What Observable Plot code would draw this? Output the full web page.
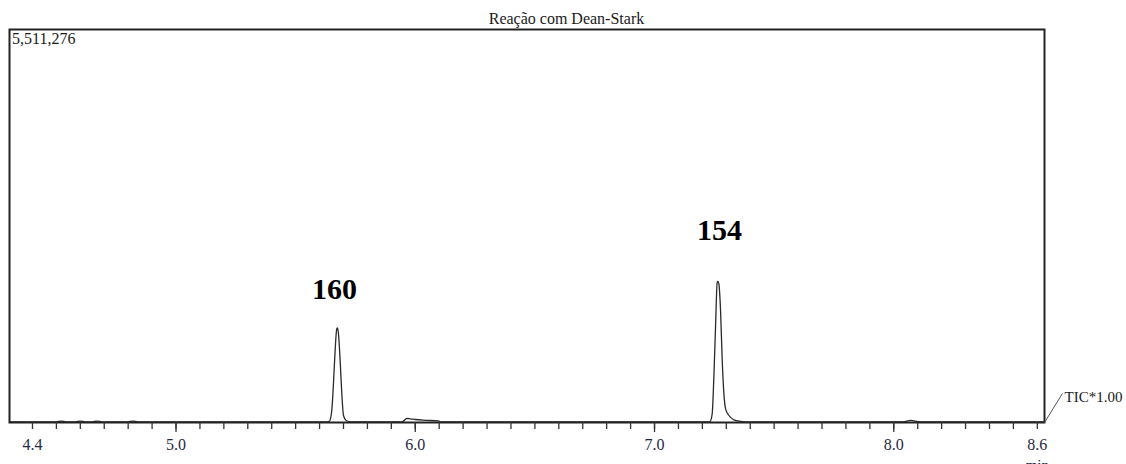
<!DOCTYPE html>
<html>
<head>
<meta charset="utf-8">
<script src="https://cdn.jsdelivr.net/npm/d3@7"></script>
<script src="https://cdn.jsdelivr.net/npm/@observablehq/plot@0.6"></script>
<style>
  html, body { margin: 0; padding: 0; background: #fff; }
</style>
</head>
<body>
<div id="chart"></div>
<script>
// ---- Data ----
const chartTitle = "Reação com Dean-Stark";
const maxIntensityLabel = "5,511,276";
const maxIntensity = 5511276;
const traceLabel = "TIC*1.00";
const unitLabel = "min";

// retention time (min)
const times = [
  4.304, 4.40, 4.50, 4.52, 4.54, 4.58, 4.60, 4.62, 4.65, 4.67, 4.69, 4.80, 4.82, 4.84,
  5.00, 5.20, 5.40, 5.60, 5.630, 5.641, 5.651, 5.658, 5.665, 5.672, 5.675, 5.679, 5.686,
  5.693, 5.700, 5.711, 5.730, 5.80, 5.90, 5.944, 5.965, 5.979, 6.000, 6.033, 6.096, 6.105,
  6.20, 6.50, 6.80, 7.00, 7.20, 7.231, 7.241, 7.248, 7.255, 7.262, 7.265, 7.269, 7.276,
  7.283, 7.290, 7.297, 7.311, 7.332, 7.360, 7.388, 7.45, 7.70, 7.90, 8.04, 8.07, 8.11,
  8.30, 8.50, 8.63
];
// total ion current (counts)
const intensities = [
  8000, 8000, 8000, 20000, 8000, 8000, 20000, 8000, 8000, 20000, 8000, 8000, 20000, 8000,
  8000, 8000, 8000, 8000, 9000, 18000, 168000, 543000, 1010000, 1314000, 1325000, 1244000, 869000,
  402000, 98000, 28000, 10000, 8000, 8000, 9000, 56000, 52000, 42000, 32000, 24000, 9000,
  8000, 8000, 8000, 8000, 8000, 9000, 122000, 635000, 1336000, 1967000, 1977000, 1945000, 1571000,
  869000, 402000, 192000, 98000, 38000, 17000, 9000, 8000, 8000, 8000, 9000, 30000, 9000,
  8000, 8000, 8000
];

// peak annotations
const peakNames = ["160", "154"];
const peakLabelTimes = [5.662, 7.272];
const peakLabelLevels = [1869000, 2695000];

// axis ticks
const minorTicks = d3.range(44, 87).map(d => d / 10);
const majorTicks = [5.0, 6.0, 7.0, 8.0];
const tickLabels = [4.4, 5.0, 6.0, 7.0, 8.0, 8.6];

// ---- build ----
const trace = times.map((t, i) => ({t, v: intensities[i]}));
const peaks = peakNames.map((name, i) => ({name, t: peakLabelTimes[i], v: peakLabelLevels[i]}));

const xMin = 4.304, xMax = 8.63;
const serif = "Liberation Serif, Times New Roman, serif";

const chart = Plot.plot({
  width: 1126,
  height: 464,
  marginLeft: 9,
  marginRight: 82,
  marginTop: 29,
  marginBottom: 42,
  x: {domain: [xMin, xMax]},
  y: {domain: [0, maxIntensity], axis: null},
  style: {fontFamily: serif, fontSize: "16px", background: "#fff", color: "#222"},
  marks: [
    Plot.line(trace, {x: "t", y: "v", stroke: "#2a2a2a", strokeWidth: 1.3, curve: "monotone-x"}),
    Plot.frame({stroke: "#222", strokeWidth: 2}),
    Plot.axisX(minorTicks, {tickSize: 7, tickFormat: () => "", label: null, stroke: "#333", strokeWidth: 1.3}),
    Plot.axisX(majorTicks, {tickSize: 10, tickFormat: () => "", label: null, stroke: "#333", strokeWidth: 1.3}),
    Plot.axisX(tickLabels, {tickSize: 0, tickPadding: 16, tickFormat: d => d.toFixed(1), label: null,
      fill: "#1f2a44", fontSize: 16, fontFamily: serif}),
    Plot.text([unitLabel], {x: 8.6, frameAnchor: "bottom", dy: 47, lineAnchor: "bottom",
      fill: "#1f2a44", fontSize: 15, fontFamily: serif}),
    Plot.text([chartTitle], {x: 6.632, frameAnchor: "top", dy: -6, lineAnchor: "bottom",
      fill: "#1a1a1a", fontSize: 16, fontFamily: serif}),
    Plot.text([maxIntensityLabel], {frameAnchor: "top-left", dx: 2.5, dy: 3.5, lineAnchor: "top",
      textAnchor: "start", fill: "#1a1a1a", fontSize: 16, fontFamily: serif}),
    Plot.text(peaks, {x: "t", y: "v", text: "name", lineAnchor: "middle", fontWeight: "bold",
      fontSize: 30, fill: "#000", fontFamily: serif}),
    Plot.link([{x1: xMax, y1: 0, x2: 8.705, y2: 406700}], {x1: "x1", y1: "y1", x2: "x2", y2: "y2",
      stroke: "#555", strokeWidth: 1}),
    Plot.text([traceLabel], {x: 8.7136, y: 348000, textAnchor: "start", lineAnchor: "middle",
      fill: "#1a1a1a", fontSize: 15, fontFamily: serif})
  ]
});

document.getElementById("chart").appendChild(chart);
</script>
</body>
</html>
